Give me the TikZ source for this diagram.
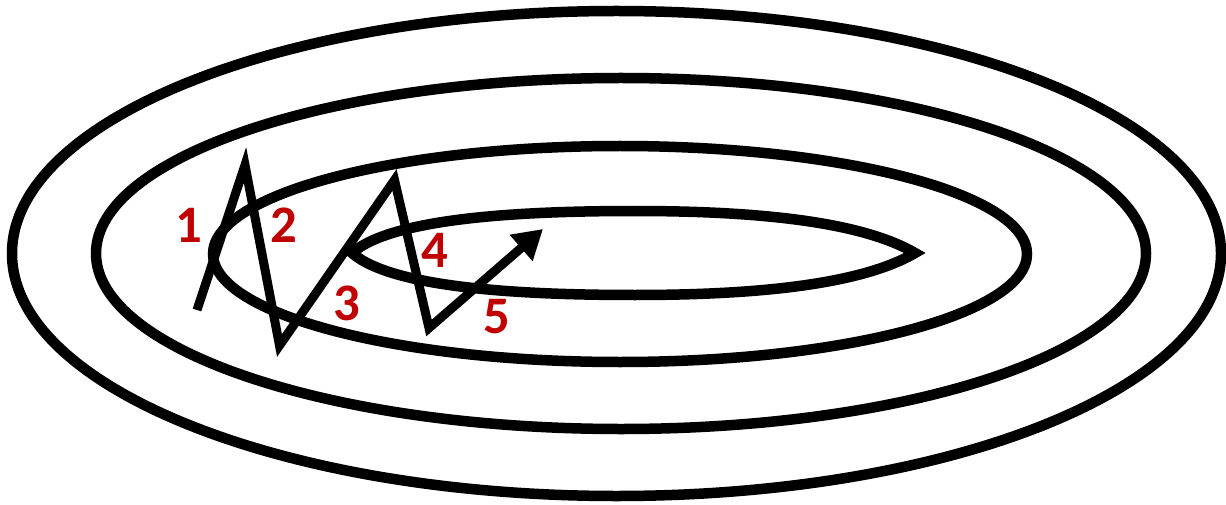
\documentclass[tikz,border=0pt]{standalone}
\usepackage{fontspec}
\usepackage[dvipsnames]{xcolor}
\usepackage{tikz}
\usetikzlibrary{arrows.meta}
\newfontfamily\labelfont{Carlito}
\definecolor{stepred}{RGB}{192,0,0}
\tikzset{
  contour/.style={
    draw=black,
    line width=1.05mm
  },
  descent/.style={
    draw=black,
    line width=0.9mm,
    miter limit=10,
    -{Triangle[length=2.9mm,width=3.3mm]}
  },
  steplabel/.style={
    font={\labelfont\bfseries\fontsize{15}{18}\selectfont},
    text=stepred,
    inner sep=0pt
  }
}

\begin{document}
\begin{tikzpicture}[x=0.1mm, y=-0.1mm]
  \useasboundingbox (0,0) rectangle (1226,505);
  % \draw[help lines, step=50] (0,0) grid (1226,505);

  % ------------------------------------------------------------------
  % Contour lines
  % ------------------------------------------------------------------
  \draw[contour] (616.5,253.5) ellipse [x radius=604.5, y radius=242.5];
  \draw[contour] (621,253.5) ellipse [x radius=525, y radius=175.5];
  \draw[contour] (620,254) ellipse [x radius=407, y radius=108];
  % innermost one is pointed at both ends
  \draw[contour] (352,253) .. controls (392,218) and (520,211) .. (635,211)
    .. controls (760,211) and (862,222) .. (915,253)
    .. controls (862,284) and (760,295) .. (635,295)
    .. controls (520,295) and (392,288) .. cycle;

  % ------------------------------------------------------------------
  % Descent path
  % ------------------------------------------------------------------
  \coordinate (p0) at (197,310);
  \coordinate (p1) at (245,165);
  \coordinate (p2) at (279.5,345.5);
  \coordinate (p3) at (394.5,180);
  \coordinate (p4) at (429,328);
  \coordinate (p5) at (543,229);

  \draw[descent] (p0) -- (p1) -- (p2) -- (p3) -- (p4) -- (p5);

  % Step numbers
  \node[steplabel] (s1) at (188.5,225) {1};
  \node[steplabel] (s2) at (283.5,225) {2};
  \node[steplabel] (s3) at (346.5,303.5) {3};
  \node[steplabel] (s4) at (434.5,250) {4};
  \node[steplabel] (s5) at (496.5,316.5) {5};
\end{tikzpicture}
\end{document}
